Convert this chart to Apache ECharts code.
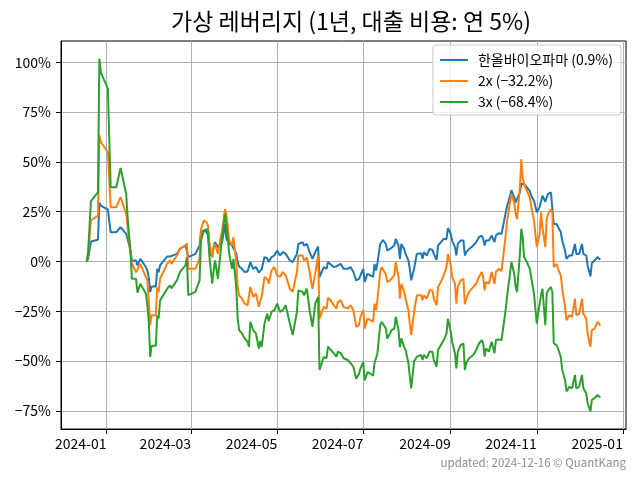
<!DOCTYPE html>
<html>
<head>
<meta charset="utf-8">
<script src="https://cdn.jsdelivr.net/npm/echarts@6/dist/echarts.min.js"></script>
<style>html,body{margin:0;padding:0;background:#fff}#c{width:640px;height:480px}</style>
</head>
<body>
<div id="c"></div>
<script>
const titleText = '가상 레버리지 (1년, 대출 비용: 연 5%)';
const seriesNames = ['한올바이오파마 (0.9%)', '2x (\u221232.2%)', '3x (\u221268.4%)'];
const footnote = 'updated: 2024-12-16 \u00a9 QuantKang';
const yTicks = [-75, -50, -25, 0, 25, 50, 75, 100];
const xTicks = ['2024-01-01', '2024-03-01', '2024-05-01', '2024-07-01', '2024-09-01', '2024-11-01', '2025-01-01'];

const dates = [
'2023-12-18','2023-12-19','2023-12-21','2023-12-26','2023-12-27','2023-12-28','2024-01-02','2024-01-04','2024-01-08','2024-01-11',
'2024-01-15','2024-01-16','2024-01-18','2024-01-19','2024-01-22','2024-01-23','2024-01-25','2024-01-29','2024-01-30','2024-01-31',
'2024-02-01','2024-02-02','2024-02-05','2024-02-06','2024-02-07','2024-02-08','2024-02-13','2024-02-14','2024-02-15','2024-02-16',
'2024-02-20','2024-02-22','2024-02-26','2024-02-27','2024-02-28','2024-02-29','2024-03-04','2024-03-07','2024-03-08','2024-03-10',
'2024-03-12','2024-03-13','2024-03-14','2024-03-16','2024-03-17','2024-03-18','2024-03-20','2024-03-22','2024-03-23','2024-03-25',
'2024-03-26','2024-03-28','2024-03-30','2024-03-31','2024-04-02','2024-04-03','2024-04-04','2024-04-06','2024-04-08','2024-04-10',
'2024-04-11','2024-04-12','2024-04-14','2024-04-16','2024-04-18','2024-04-19','2024-04-20','2024-04-22','2024-04-24','2024-04-25',
'2024-04-27','2024-04-29','2024-05-01','2024-05-03','2024-05-05','2024-05-07','2024-05-10','2024-05-12','2024-05-15','2024-05-16',
'2024-05-19','2024-05-20','2024-05-22','2024-05-24','2024-05-26','2024-05-28','2024-05-30','2024-05-31','2024-06-03','2024-06-05',
'2024-06-06','2024-06-08','2024-06-10','2024-06-12','2024-06-13','2024-06-15','2024-06-17','2024-06-18','2024-06-20','2024-06-22',
'2024-06-24','2024-06-26','2024-06-28','2024-06-29','2024-07-01','2024-07-02','2024-07-04','2024-07-06','2024-07-08','2024-07-09',
'2024-07-10','2024-07-11','2024-07-13','2024-07-14','2024-07-15','2024-07-17','2024-07-18','2024-07-20','2024-07-21','2024-07-23',
'2024-07-24','2024-07-26','2024-07-27','2024-07-28','2024-07-30','2024-07-31','2024-08-02','2024-08-03','2024-08-04','2024-08-06',
'2024-08-08','2024-08-09','2024-08-11','2024-08-12','2024-08-13','2024-08-15','2024-08-17','2024-08-19','2024-08-20','2024-08-22',
'2024-08-23','2024-08-25','2024-08-27','2024-08-29','2024-08-30','2024-09-01','2024-09-02','2024-09-04','2024-09-05','2024-09-06',
'2024-09-08','2024-09-10','2024-09-11','2024-09-12','2024-09-14','2024-09-17','2024-09-19','2024-09-21','2024-09-23','2024-09-24',
'2024-09-25','2024-09-26','2024-09-28','2024-09-30','2024-10-02','2024-10-03','2024-10-05','2024-10-07','2024-10-08','2024-10-10',
'2024-10-11','2024-10-13','2024-10-14','2024-10-16','2024-10-17','2024-10-18','2024-10-20','2024-10-21','2024-10-22','2024-10-23',
'2024-10-25','2024-10-27','2024-10-28','2024-10-30','2024-11-01','2024-11-03','2024-11-04','2024-11-05','2024-11-07','2024-11-08',
'2024-11-09','2024-11-11','2024-11-12','2024-11-13','2024-11-15','2024-11-16','2024-11-18','2024-11-19','2024-11-21','2024-11-22',
'2024-11-24','2024-11-26','2024-11-27','2024-11-28','2024-11-29','2024-12-01','2024-12-03','2024-12-04','2024-12-06','2024-12-07',
'2024-12-09','2024-12-10','2024-12-12','2024-12-14','2024-12-15','2024-12-16'
];

const base1x = [
0,1.3,10,10.9,29.5,28,26,14.7,14.7,17.2,
13.9,11.4,5.5,0.5,0.5,-2,1.3,-2.8,-4.5,-8,
-15.4,-12.6,-12.6,-3.7,-5.4,-2,2.5,1.8,2.5,2,
3.8,6.3,8,8.9,2.2,2,3.8,8,14.7,15.5,
14.7,13,4.7,2.2,7.5,9.7,7.2,8.5,9.7,18.8,
11.3,9,8,8,4,-0.3,-2.5,-3.7,-5.3,-5,
-4,-0.3,-3.7,-2.8,-5.5,-6.2,-4,2.2,1.5,-0.3,
2.2,3,5.5,3,4.7,3.8,0.5,-0.3,3.8,8.8,
9.7,8,8.8,4.7,1.3,4.7,7.5,-7.8,-2.8,-3.7,
-0.3,-1.5,-2.8,-2.5,-2,-1.2,-3.7,-3.2,-3.7,-2.8,
-5.3,-9.5,-8.7,-7,-3.7,-10.3,-6.2,-7,-7.8,-1.2,
-4.5,-1.2,8.8,9.7,10.8,8.8,5.5,6.3,7.2,8,
11.3,8,1.3,8.8,6.3,3.8,0.5,-3.7,-9.5,-3.7,
3.8,3.8,4.2,1.3,4.7,3,6.3,5.8,3.8,0.8,
8,9.7,11.3,11.3,16.8,13.8,10.5,7.2,3,8.8,
10.5,10.5,3,4.7,6.3,8,9.7,12.2,13,11.3,
8,10.5,10.5,13,9.7,13,14.2,13.8,13.8,24.7,
28,33,35.8,32.2,29.7,29,34.7,39,38.5,38.8,
37.2,35.5,33,30.5,24.7,27.3,28,33,30,32.2,
34,34.7,34,18.8,18.8,18,14.7,10.5,5.5,1.3,
3,3,3,8.8,3.8,3.8,8.8,3.8,3,-2,
-7.5,-0.8,0.5,2.2,1.8,0.9
];

const lev2x = [
0,3,20.6,23,63.3,60,55,27.3,27.3,32.3,
24,17.2,4.7,-1,-5.4,-6,-1.2,-7.9,-9.5,-19.6,
-32.1,-27,-27,-13,-15.4,-8.7,-1.2,-1.8,0.5,-1.2,
3,6.5,8,9.2,-3.7,-4.2,-3.7,1.3,16.3,20.5,
19.7,18,8.8,2.2,7.2,8.8,3.8,12.2,15.5,26.3,
23.8,10.5,8,12.2,-0.3,-12.8,-17,-18.7,-21.2,-22,
-22.8,-12.8,-17.8,-16.2,-22.8,-20,-18,-7.8,-8.7,-11.2,
-4.5,-2.8,-7,-7.8,-5.3,-7,-13.7,-15.3,-5.3,3,
3,0.5,2,-5.3,-13.7,-6,3,-28.7,-22.8,-23.7,
-18.2,-19.5,-22,-23.7,-20.4,-19.5,-22.8,-23.7,-23.7,-22,
-24.5,-32.8,-32,-28,-24.5,-33.7,-28.7,-29.5,-30.3,-21.2,
-24.5,-19.6,-5.3,-2.8,-3.5,-6.5,-10.3,-9.5,-8.7,-7,
-0.3,-7.8,-18.7,-11.2,-15.3,-18.7,-24.5,-31.2,-37,-25.5,
-17,-17.8,-17,-19.5,-17,-18.7,-14.5,-14.5,-18.7,-22,
-12.8,-10.3,-7,-2.8,3.8,-2,-7.8,-11.2,-21.2,-12.8,
-9.5,-8.7,-21.5,-18.7,-15.3,-12.8,-11.2,-7.8,-5.3,-7.8,
-14.5,-10.3,-11.2,-5.3,-11.2,-5.3,-3.7,-4.8,-5.3,13.8,
20.5,29.7,33.8,29.7,23.8,21.3,37.2,51.3,42,38.8,
35.5,32.2,28,20.5,7.2,13.8,24.7,17,7.2,21.3,
23.8,26.3,24.7,-2.8,-1.2,-3.7,-7,-13.7,-22.8,-29.5,
-27,-27.8,-27,-18.7,-27,-26.3,-18.7,-26.3,-28.7,-36.2,
-42.8,-34.5,-33.7,-30.3,-31.2,-32.2
];

const lev3x = [
0,4.7,30.3,34.8,101.9,95,86.8,37.3,37.3,47,
34,22.3,5.5,-8.7,-8.7,-15.7,-11.2,-16.2,-22.1,-30,
-48,-42.4,-42.4,-27.1,-28.6,-19.6,-13.7,-14.5,-12,-13.5,
-9.5,-5.4,-2,2,-16.9,-16.5,-15.3,-9.5,10.5,15.5,
16.3,15,2.2,-11.2,-4.5,0.5,-8.7,5.5,12.2,23.8,
18.8,3.8,-3.7,1.3,-12.8,-28.7,-34.5,-36,-38.7,-40.3,
-42.8,-30.3,-34.5,-36.2,-43.7,-40,-43,-31.2,-26.2,-30,
-25.3,-24.5,-21.2,-25.3,-24.5,-22,-31.2,-37,-25.3,-14.5,
-15.3,-17,-13.7,-24.5,-32.8,-21.2,-17.8,-54.5,-48,-48.6,
-42.8,-44.5,-46,-47.8,-45.3,-46,-48.6,-48.6,-49.5,-51,
-53,-58.9,-56.4,-53.8,-50.6,-59.8,-55.6,-56.4,-57.3,-51,
-52,-46.4,-32,-30.3,-29.5,-33.7,-38.7,-36.2,-34.5,-33.7,
-27.8,-34.5,-43,-38.7,-43,-44.5,-51,-57.8,-63.7,-50.3,
-47.8,-47.8,-47,-49.5,-47,-48.6,-45.3,-45.3,-49.5,-52.8,
-44.5,-42,-39.5,-36.2,-28.7,-35.3,-40.3,-46.1,-53.7,-45.3,
-42,-41.2,-54.5,-51,-48.6,-47,-44.5,-41.2,-39.5,-41.2,
-47.8,-43.7,-45.3,-40.3,-46.1,-39.5,-39.2,-39.5,-40.3,-23.7,
-17,-6.2,-0.3,-6.2,-12.8,-15.3,3.8,16.3,12,2.2,
-0.3,-3.7,-7.8,-16.2,-31.2,-21.2,-17,-13.7,-32,-16.2,
-14.5,-12.8,-15.3,-41.2,-42,-43.7,-48,-54.5,-59.5,-65.3,
-63,-63.7,-63,-57,-63.7,-63,-57,-63.7,-66.2,-71.2,
-75.3,-69.5,-68.7,-67,-67.8,-68.4
];

const colors = ['#1f77b4', '#ff7f0e', '#2ca02c'];
const font = '"Noto Sans CJK KR", "Noto Sans", sans-serif';

function ts(s) { return +new Date(s + 'T00:00:00'); }
function pair(vals) { return dates.map((d, i) => [ts(d), vals[i]]); }

const t0 = ts(dates[0]);
const t1 = ts(dates[dates.length - 1]);
const pad = (t1 - t0) * 0.05;
const allVals = base1x.concat(lev2x, lev3x);
const vMin = Math.min.apply(null, allVals), vMax = Math.max.apply(null, allVals);
const vPad = (vMax - vMin) * 0.05;
const xTickVals = xTicks.map(ts);

function fmtPct(v) { return (v < 0 ? '\u2212' + Math.abs(v) : v) + '%'; }
function fmtMonth(v) {
  const d = new Date(v);
  return d.getFullYear() + '-' + String(d.getMonth() + 1).padStart(2, '0');
}

const chart = echarts.init(document.getElementById('c'), null, { renderer: 'canvas' });
chart.setOption({
  animation: false,
  backgroundColor: '#ffffff',
  textStyle: { fontFamily: font },
  title: {
    text: titleText,
    left: 346, top: 5, textAlign: 'center',
    textStyle: { fontFamily: font, fontSize: 23, fontWeight: 'normal', color: '#000' }
  },
  grid: { left: 61, right: 14, top: 41, bottom: 51, show: true, borderColor: '#000', borderWidth: 1, containLabel: false },
  legend: {
    orient: 'vertical', right: 19, top: 45,
    backgroundColor: 'rgba(255,255,255,0.8)', borderColor: '#cccccc', borderWidth: 1, borderRadius: 3,
    padding: [8, 8, 6, 7], itemGap: 7, itemWidth: 28, itemHeight: 2, icon: 'rect',
    textStyle: { fontFamily: font, fontSize: 14, color: '#000', padding: [0, 0, 0, 5] },
    data: seriesNames
  },
  xAxis: {
    type: 'value', min: t0 - pad, max: t1 + pad,
    axisLine: { show: true, onZero: false, lineStyle: { color: '#000', width: 1 } },
    axisTick: { show: true, inside: false, length: 5, lineStyle: { color: '#000' }, customValues: xTickVals },
    axisLabel: { customValues: xTickVals, formatter: fmtMonth, align: 'right', margin: 8, fontSize: 14, color: '#000', fontFamily: font, hideOverlap: false },
    splitLine: { show: true, lineStyle: { color: '#b0b0b0', width: 1 } }
  },
  yAxis: {
    type: 'value', min: vMin - vPad, max: vMax + vPad,
    axisLine: { show: true, onZero: false, lineStyle: { color: '#000', width: 1 } },
    axisTick: { show: true, inside: false, length: 5, lineStyle: { color: '#000' }, customValues: yTicks },
    axisLabel: { customValues: yTicks, formatter: fmtPct, margin: 10, fontSize: 14, color: '#000', fontFamily: font },
    splitLine: { show: true, lineStyle: { color: '#b0b0b0', width: 1 } }
  },
  graphic: [{
    type: 'text', right: 14, top: 457,
    style: { text: footnote, fill: '#8c8c8c', font: '11.5px ' + font, textAlign: 'right' }
  }],
  series: [base1x, lev2x, lev3x].map((vals, i) => ({
    name: seriesNames[i], type: 'line', data: pair(vals), showSymbol: false, symbol: 'none',
    lineStyle: { width: 2, color: colors[i] }, itemStyle: { color: colors[i] }, z: 2 + i
  }))
});
</script>
</body>
</html>
